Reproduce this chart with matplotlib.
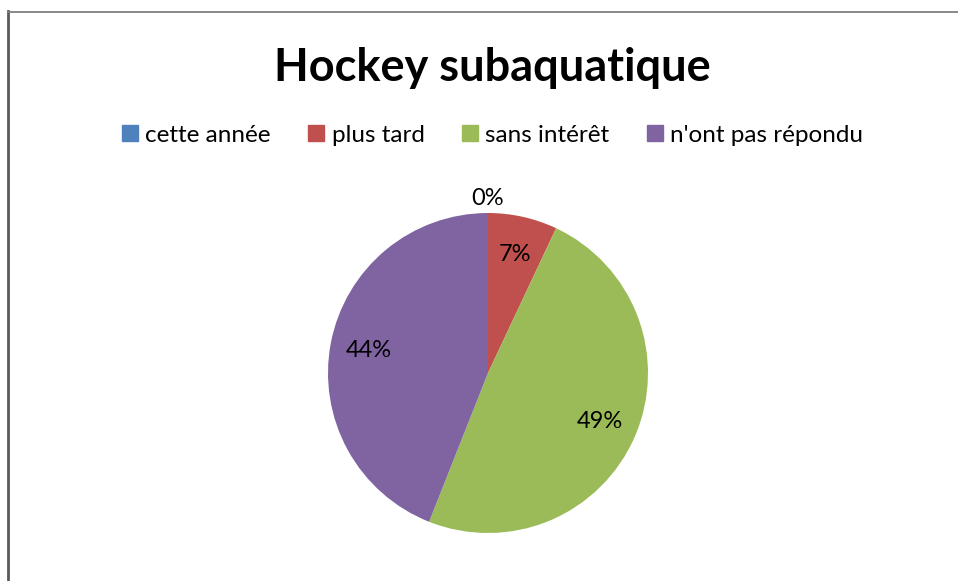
import matplotlib.pyplot as plt
from matplotlib.lines import Line2D

plt.rcParams['font.family'] = ['Lato', 'DejaVu Sans']

title = "Hockey subaquatique"
categories = ["cette année", "plus tard", "sans intérêt", "n'ont pas répondu"]
values = [0, 7, 49, 44]
colors = ["#4F81BD", "#C0504D", "#9BBB59", "#8064A2"]

W, H = 958, 581
fig = plt.figure(figsize=(W / 100, H / 100), dpi=100)

# chart border (cropped on the right and bottom)
fig.add_artist(Line2D([8 / W, 8 / W], [0, 1 - 11 / H], transform=fig.transFigure,
                      color="#5a5a5a", linewidth=2))
fig.add_artist(Line2D([8 / W, 1], [1 - 11.5 / H, 1 - 11.5 / H], transform=fig.transFigure,
                      color="#808080", linewidth=1.3))

fig.text(492 / W, 1 - 68 / H, title, ha="center", va="center",
         fontsize=32.5, fontweight="bold")

# pie: centre (488, 373) px, radius 160 px
cx, cy, r = 488, 373, 160
ax = fig.add_axes([(cx - r) / W, (H - cy - r) / H, 2 * r / W, 2 * r / H])
wedges, texts = ax.pie(values, colors=colors, startangle=90, counterclock=False,
                       radius=1, labels=[f"{v}%" for v in values],
                       labeldistance=0.76, textprops=dict(fontsize=17))
for t in texts:
    t.set_ha("center")
    t.set_va("center")
    t.set_clip_on(False)
# 0% label sits just outside the pie
texts[0].set_position((0, 1.09))
ax.set_xlim(-1, 1)
ax.set_ylim(-1, 1)
ax.axis("off")

handles = [Line2D([], [], marker="s", linestyle="none", markersize=11,
                  markerfacecolor=c, markeredgecolor=c) for c in colors]
fig.legend(handles, categories, loc="center", bbox_to_anchor=(492 / W, 1 - 135 / H),
           ncol=4, frameon=False, fontsize=17.5, handlelength=0.75,
           handletextpad=0.25, columnspacing=1.5)

fig.savefig("out.png", dpi=100)
